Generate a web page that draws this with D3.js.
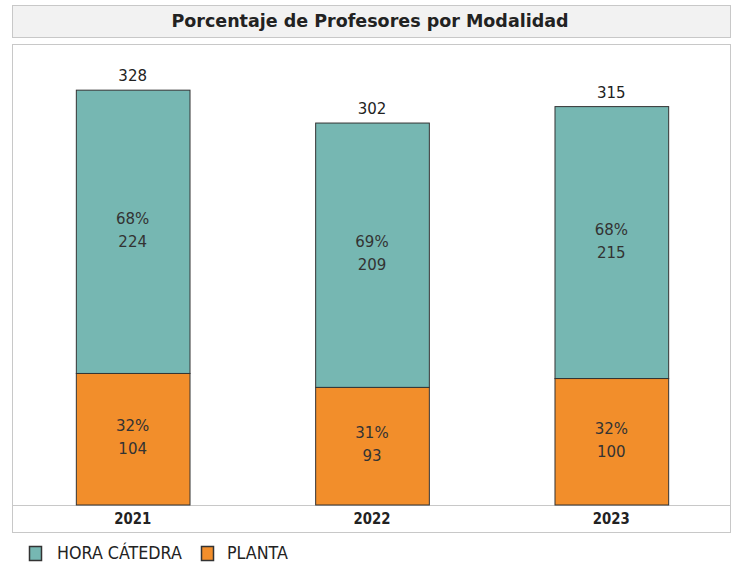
<!DOCTYPE html>
<html>
<head>
<meta charset="utf-8">
<script src="https://cdn.jsdelivr.net/npm/d3@7"></script>
<style>
  body { margin: 0; background: #fff; }
  text { font-family: Tahoma, "DejaVu Sans", sans-serif; }
</style>
</head>
<body>
<div id="chart"></div>
<script>
// data
var years = ["2021", "2022", "2023"];
var horaCatedra = [224, 209, 215];
var planta = [104, 93, 100];
var pctHora = ["68%", "69%", "68%"];
var pctPlanta = ["32%", "31%", "32%"];
var legendKeys = ["HORA CÁTEDRA", "PLANTA"];
var colors = ["#76b7b2", "#f28e2b"];

var W = 736, H = 567;
var svg = d3.select("#chart").append("svg")
  .attr("width", W)
  .attr("height", H);

// squeeze a text to a given width (condensed look)
function condense(sel, targetW, x0, y0) {
  var w = sel.node().getComputedTextLength();
  var k = targetW / w;
  sel.attr("x", 0).attr("y", 0)
    .attr("transform", "translate(" + x0 + "," + y0 + ") scale(" + k + ",1)");
}

// title box
svg.append("rect")
  .attr("x", 12.5).attr("y", 5.5)
  .attr("width", 718).attr("height", 32)
  .attr("fill", "#f2f2f2")
  .attr("stroke", "#c8c8c8");
svg.append("text")
  .attr("x", 370).attr("y", 26.5)
  .attr("text-anchor", "middle")
  .style("font-size", "17.5px")
  .style("font-weight", "bold")
  .attr("fill", "#222")
  .text("Porcentaje de Profesores por Modalidad");

// chart box
svg.append("rect")
  .attr("x", 12.5).attr("y", 44.5)
  .attr("width", 718).attr("height", 488)
  .attr("fill", "#fff")
  .attr("stroke", "#c8c8c8");

var plotTop = 44, plotBottom = 505;

var x = d3.scaleBand()
  .domain(years)
  .range([13, 731])
  .paddingInner(0.525)
  .paddingOuter(0.2625);

var y = d3.scaleLinear()
  .domain([0, 364.5])
  .range([plotBottom, plotTop]);

// separator line for the axis
svg.append("line")
  .attr("x1", 13).attr("x2", 730)
  .attr("y1", plotBottom + 0.5).attr("y2", plotBottom + 0.5)
  .attr("stroke", "#c8c8c8");

var rows = years.map(function(yr, i) {
  return { year: yr, planta: planta[i], hora: horaCatedra[i], total: planta[i] + horaCatedra[i], i: i };
});

var g = svg.append("g");

// planta (bottom)
g.selectAll(".planta")
  .data(rows).enter().append("rect")
  .attr("x", function(d) { return x(d.year) + 0.5; })
  .attr("y", function(d) { return y(d.planta); })
  .attr("width", x.bandwidth())
  .attr("height", function(d) { return y(0) - y(d.planta); })
  .attr("fill", colors[1])
  .attr("stroke", "#333")
  .attr("stroke-width", 1);

// hora catedra (top)
g.selectAll(".hora")
  .data(rows).enter().append("rect")
  .attr("x", function(d) { return x(d.year) + 0.5; })
  .attr("y", function(d) { return y(d.total); })
  .attr("width", x.bandwidth())
  .attr("height", function(d) { return y(d.planta) - y(d.total); })
  .attr("fill", colors[0])
  .attr("stroke", "#333")
  .attr("stroke-width", 1);

// segment labels
rows.forEach(function(d) {
  var cx = x(d.year) + x.bandwidth() / 2;
  var midH = (y(d.total) + y(d.planta)) / 2;
  var midP = (y(d.planta) + y(0)) / 2;
  [[midH, pctHora[d.i], d.hora], [midP, pctPlanta[d.i], d.planta]].forEach(function(s) {
    g.append("text")
      .attr("x", cx).attr("y", s[0] - 8)
      .attr("text-anchor", "middle")
      .style("font-size", "15px")
      .attr("fill", "#333")
      .text(s[1]);
    g.append("text")
      .attr("x", cx).attr("y", s[0] + 15)
      .attr("text-anchor", "middle")
      .style("font-size", "15px")
      .attr("fill", "#333")
      .text(s[2]);
  });
  // total on top
  g.append("text")
    .attr("x", cx).attr("y", y(d.total) - 9)
    .attr("text-anchor", "middle")
    .style("font-size", "15px")
    .attr("fill", "#222")
    .text(d.total);
});

// x axis labels
var xAxis = svg.append("g")
  .attr("transform", "translate(0," + plotBottom + ")")
  .call(d3.axisBottom(x).tickSize(0).tickPadding(6));
xAxis.select(".domain").remove();
xAxis.selectAll("text")
  .style("font-family", "'DejaVu Sans', sans-serif")
  .style("font-size", "15px")
  .style("font-weight", "bold")
  .attr("fill", "#222")
  .attr("dy", "0.9em")
  .each(function() {
    var k = 37 / this.getComputedTextLength();
    d3.select(this).attr("transform", "scale(" + k + ",1)").attr("x", 0);
  });

// legend
var legX = [29, 201];
var legLen = [125, 61];
legendKeys.forEach(function(k, i) {
  svg.append("rect")
    .attr("x", legX[i] + 0.5).attr("y", 546.5)
    .attr("width", 12).attr("height", 14)
    .attr("fill", colors[i])
    .attr("stroke", "#333")
    .attr("stroke-width", 1.5);
  var t = svg.append("text")
    .style("font-family", "'DejaVu Sans', sans-serif")
    .style("font-size", "17px")
    .attr("fill", "#222")
    .text(k);
  condense(t, legLen[i], legX[i] + (i === 0 ? 28 : 26), 559);
});
</script>
</body>
</html>
